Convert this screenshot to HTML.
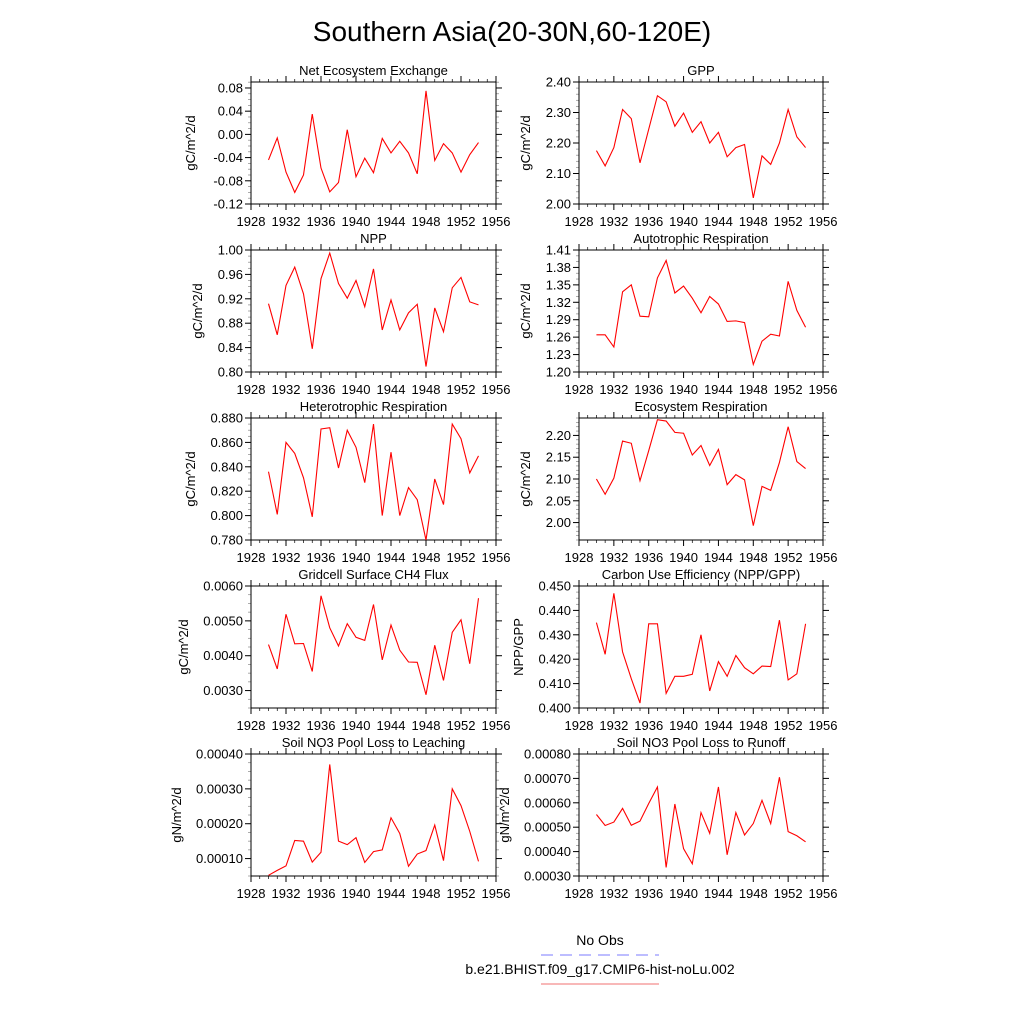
<!DOCTYPE html>
<html><head><meta charset="utf-8"><style>
html,body{margin:0;padding:0;background:#fff;}
svg{display:block;font-family:"Liberation Sans",Arial,sans-serif;}
</style></head><body>
<svg id="chart" width="1024" height="1024" viewBox="0 0 1024 1024" xmlns="http://www.w3.org/2000/svg">
<text x="512" y="41" font-size="28" text-anchor="middle">Southern Asia(20-30N,60-120E)</text>
<g>
<text x="600" y="945" font-size="14" text-anchor="middle">No Obs</text>
<line x1="541" y1="955" x2="659" y2="955" stroke="#7b7bff" stroke-width="1" stroke-dasharray="12,7"/>
<text x="600" y="974" font-size="14" text-anchor="middle">b.e21.BHIST.f09_g17.CMIP6-hist-noLu.002</text>
<line x1="541" y1="984" x2="659" y2="984" stroke="#f07070" stroke-width="1"/>
</g>
</svg>
<script>
const years = [1930,1931,1932,1933,1934,1935,1936,1937,1938,1939,1940,1941,1942,1943,1944,1945,1946,1947,1948,1949,1950,1951,1952,1953,1954];
const xTicks = [1928,1932,1936,1940,1944,1948,1952,1956];
const neeValues = [-0.044,-0.006,-0.065,-0.100,-0.070,0.035,-0.058,-0.099,-0.083,0.008,-0.073,-0.041,-0.066,-0.007,-0.032,-0.012,-0.032,-0.068,0.075,-0.045,-0.016,-0.032,-0.065,-0.035,-0.014];
const gppValues = [2.175,2.125,2.185,2.31,2.28,2.135,2.245,2.355,2.335,2.255,2.298,2.235,2.27,2.20,2.235,2.155,2.185,2.195,2.02,2.158,2.13,2.20,2.31,2.22,2.185];
const nppValues = [0.912,0.861,0.942,0.972,0.928,0.838,0.953,0.995,0.945,0.921,0.950,0.907,0.969,0.869,0.918,0.869,0.897,0.911,0.809,0.905,0.866,0.938,0.955,0.915,0.910];
const arValues = [1.264,1.264,1.243,1.338,1.350,1.296,1.295,1.362,1.392,1.336,1.348,1.327,1.302,1.330,1.317,1.287,1.288,1.285,1.213,1.253,1.265,1.262,1.356,1.306,1.277];
const hrValues = [0.836,0.801,0.860,0.851,0.831,0.799,0.871,0.872,0.839,0.870,0.856,0.827,0.875,0.800,0.852,0.800,0.823,0.813,0.780,0.830,0.809,0.875,0.863,0.835,0.849];
const erValues = [2.100,2.065,2.102,2.187,2.182,2.096,2.165,2.236,2.233,2.207,2.205,2.155,2.177,2.131,2.168,2.087,2.110,2.098,1.993,2.083,2.074,2.138,2.220,2.140,2.124];
const ch4Values = [0.00432,0.00362,0.00519,0.00434,0.00435,0.00355,0.00572,0.00480,0.00428,0.00492,0.00453,0.00444,0.00547,0.00388,0.00488,0.00416,0.00382,0.00381,0.00288,0.00430,0.00329,0.00467,0.00503,0.00377,0.00565];
const cueValues = [0.435,0.422,0.447,0.423,0.412,0.402,0.4345,0.4345,0.406,0.413,0.413,0.4138,0.430,0.407,0.419,0.413,0.4215,0.4165,0.414,0.4172,0.417,0.436,0.4115,0.414,0.4345];
const leachValues = [0.000052,0.000066,0.000079,0.000152,0.000150,0.000090,0.000118,0.000370,0.000150,0.000140,0.000160,0.000089,0.000120,0.000125,0.000217,0.000172,0.000078,0.000113,0.000123,0.000196,0.000094,0.000300,0.000252,0.000178,0.000092];
const runoffValues = [0.000552,0.000507,0.000521,0.000577,0.000508,0.000525,0.000597,0.000665,0.000335,0.000595,0.000412,0.000350,0.000560,0.000475,0.000665,0.000387,0.000560,0.000468,0.000515,0.000610,0.000515,0.000705,0.000482,0.000465,0.000440];

const panels = [
 {name:'nee',title:'Net Ecosystem Exchange',ylab:'gC/m^2/d',vals:neeValues,ymin:-0.12,ymax:0.0903,ticks:[-0.12,-0.08,-0.04,0,0.04,0.08],dec:2,minor:0.01,col:0,row:0},
 {name:'gpp',title:'GPP',ylab:'gC/m^2/d',vals:gppValues,ymin:2.0,ymax:2.4,ticks:[2.0,2.1,2.2,2.3,2.4],dec:2,minor:0.02,col:1,row:0},
 {name:'npp',title:'NPP',ylab:'gC/m^2/d',vals:nppValues,ymin:0.8,ymax:1.0,ticks:[0.80,0.84,0.88,0.92,0.96,1.00],dec:2,minor:0.01,col:0,row:1},
 {name:'ar',title:'Autotrophic Respiration',ylab:'gC/m^2/d',vals:arValues,ymin:1.2,ymax:1.41,ticks:[1.20,1.23,1.26,1.29,1.32,1.35,1.38,1.41],dec:2,minor:0.01,col:1,row:1},
 {name:'hr',title:'Heterotrophic Respiration',ylab:'gC/m^2/d',vals:hrValues,ymin:0.78,ymax:0.88,ticks:[0.78,0.80,0.82,0.84,0.86,0.88],dec:3,minor:0.005,col:0,row:2},
 {name:'er',title:'Ecosystem Respiration',ylab:'gC/m^2/d',vals:erValues,ymin:1.96,ymax:2.24,ticks:[2.00,2.05,2.10,2.15,2.20],dec:2,minor:0.01,col:1,row:2},
 {name:'ch4',title:'Gridcell Surface CH4 Flux',ylab:'gC/m^2/d',vals:ch4Values,ymin:0.0025,ymax:0.0060,ticks:[0.003,0.004,0.005,0.006],dec:4,minor:0.00025,col:0,row:3},
 {name:'cue',title:'Carbon Use Efficiency (NPP/GPP)',ylab:'NPP/GPP',vals:cueValues,ymin:0.4,ymax:0.45,ticks:[0.40,0.41,0.42,0.43,0.44,0.45],dec:3,minor:0.0025,col:1,row:3},
 {name:'leach',title:'Soil NO3 Pool Loss to Leaching',ylab:'gN/m^2/d',vals:leachValues,ymin:0.00005,ymax:0.0004,ticks:[0.0001,0.0002,0.0003,0.0004],dec:5,minor:0.000025,col:0,row:4},
 {name:'runoff',title:'Soil NO3 Pool Loss to Runoff',ylab:'gN/m^2/d',vals:runoffValues,ymin:0.0003,ymax:0.0008,ticks:[0.0003,0.0004,0.0005,0.0006,0.0007,0.0008],dec:5,minor:0.000025,col:1,row:4}
];
const NS='http://www.w3.org/2000/svg';
const svg=document.getElementById('chart');
function mk(tag,attrs,parent){const e=document.createElementNS(NS,tag);for(const k in attrs)e.setAttribute(k,attrs[k]);parent.appendChild(e);return e;}
panels.forEach(p=>{
  const L=p.col===0?251:579, R=p.col===0?496:823;
  const T=82+p.row*168, B=T+122;
  const g=mk('g',{},svg);
  
  
  const xs=v=>L+(v-1928)/(1956-1928)*(R-L);
  const ys=v=>B-(v-p.ymin)/(p.ymax-p.ymin)*(B-T);
  for(let yr=1928;yr<=1956;yr++){
    if(yr%4===0) continue;
    const x=xs(yr);
    mk('line',{x1:x,y1:B,x2:x,y2:B+3,stroke:'#000','stroke-width':0.7},g);
    mk('line',{x1:x,y1:T,x2:x,y2:T-3,stroke:'#000','stroke-width':0.7},g);
  }
  const start=Math.ceil(p.ymin/p.minor-1e-6);
  for(let k=start;k*p.minor<=p.ymax+1e-12;k++){
    const v=k*p.minor;const y=ys(v);
    mk('line',{x1:L,y1:y,x2:L-3,y2:y,stroke:'#888','stroke-width':0.7},g);
    mk('line',{x1:R,y1:y,x2:R+3,y2:y,stroke:'#888','stroke-width':0.7},g);
  }
  xTicks.forEach(t=>{
    const x=xs(t);
    mk('line',{x1:x,y1:B,x2:x,y2:B+6,stroke:'#000','stroke-width':1},g);
    mk('line',{x1:x,y1:T,x2:x,y2:T-6,stroke:'#000','stroke-width':1},g);
    const tx=mk('text',{x:x,y:B+22,'font-size':13,'text-anchor':'middle'},g);
    
    
    tx.textContent=t;
  });
  let maxLen=0;
  p.ticks.forEach(t=>{
    const y=ys(t);
    mk('line',{x1:L,y1:y,x2:L-6,y2:y,stroke:'#000','stroke-width':1},g);
    mk('line',{x1:R,y1:y,x2:R+6,y2:y,stroke:'#000','stroke-width':1},g);
    const tx=mk('text',{x:L-8,y:y+4.5,'font-size':13,'text-anchor':'end'},g);
    
    
    const s=t.toFixed(p.dec);
    tx.textContent=s;
    maxLen=Math.max(maxLen,s.length*7.0);
  });
  const fr=mk('rect',{x:L,y:T,width:R-L,height:B-T,fill:'none',stroke:'#000','stroke-width':1},g);
  
  
  const pts=p.vals.map((v,i)=>xs(years[i]).toFixed(2)+','+ys(v).toFixed(2)).join(' ');
  const pl=mk('polyline',{points:pts,fill:'none',stroke:'#ff0000','stroke-width':1.1},g);
  
  
  const tt=mk('text',{x:(L+R)/2,y:T-7,'font-size':13,'text-anchor':'middle'},g);
  
  
  tt.textContent=p.title;
  const lx=L-8-maxLen-13, ly=(T+B)/2;
  const yl=mk('text',{x:lx,y:ly,'font-size':13,'text-anchor':'middle',transform:'rotate(-90 '+lx+' '+ly+')'},g);
  
  
  yl.textContent=p.ylab;
});
</script>
</body></html>
